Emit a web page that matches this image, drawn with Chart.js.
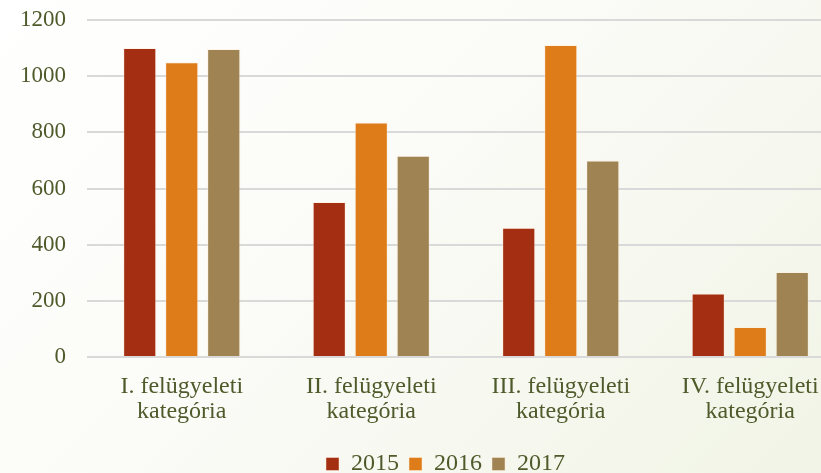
<!DOCTYPE html>
<html lang="hu">
<head>
  <meta charset="UTF-8" />
  <title>Felügyeleti kategóriák</title>
  <script src="https://cdn.jsdelivr.net/npm/chart.js"></script>
  <style>
    * { margin: 0; padding: 0; box-sizing: border-box; }
    html, body {
      width: 821px;
      height: 473px;
      overflow: hidden;
      background: linear-gradient(135deg, #ffffff 0%, #fbfbf7 45%, #f1f4e6 100%);
    }
    .wrap {
      position: relative;
      width: 845px;
      height: 486px;
    }
  </style>
</head>
<body>
  <div class="wrap">
    <canvas id="chart"></canvas>
  </div>

  <script>
    const categories = [
      ['I. felügyeleti', 'kategória'],
      ['II. felügyeleti', 'kategória'],
      ['III. felügyeleti', 'kategória'],
      ['IV. felügyeleti', 'kategória']
    ];
    const years = ['2015', '2016', '2017'];
    const values2015 = [1100, 552, 460, 226];
    const values2016 = [1050, 835, 1111, 107];
    const values2017 = [1097, 717, 700, 303];
    const colors = ['#a32e11', '#dd7c19', '#9f8352'];

    const textColor = '#4f5a2b';
    const serif = "'Liberation Serif', 'Times New Roman', serif";

    const series = [values2015, values2016, values2017];

    // legend in the original sits right of the canvas centre
    const legendShift = {
      id: 'legendShift',
      afterLayout(chart) {
        if (chart.legend) chart.legend.left += 46;
      }
    };

    const ctx = document.getElementById('chart').getContext('2d');
    new Chart(ctx, {
      type: 'bar',
      data: {
        labels: categories,
        datasets: years.map((y, i) => ({
          label: y,
          data: series[i],
          backgroundColor: colors[i],
          borderColor: 'rgba(255, 235, 215, 0.5)',
          borderWidth: 1,
          categoryPercentage: 0.665,
          barPercentage: 0.79
        }))
      },
      options: {
        responsive: true,
        maintainAspectRatio: false,
        animation: false,
        layout: { padding: 0 },
        plugins: {
          tooltip: { enabled: false },
          legend: {
            position: 'bottom',
            labels: {
              color: textColor,
              font: { family: serif, size: 24 },
              boxWidth: 13,
              boxHeight: 13,
              padding: 10
            }
          }
        },
        scales: {
          y: {
            min: 0,
            max: 1200,
            ticks: {
              stepSize: 200,
              color: textColor,
              font: { family: serif, size: 23 },
              padding: 21,
              callback: v => String(v)
            },
            grid: { color: '#d9d9d9', lineWidth: 2, drawTicks: false },
            border: { display: false },
            afterFit: s => {
              s.width = 87;
              s.paddingTop = 20;
              s.paddingBottom = 0;
            }
          },
          x: {
            ticks: {
              color: textColor,
              font: { family: serif, size: 24, lineHeight: 1.04 },
              padding: 9,
              maxRotation: 0
            },
            grid: { display: false },
            border: { display: false },
            afterFit: s => {
              s.height = 85;
              s.paddingLeft = 0;
              s.paddingRight = 0;
            }
          }
        }
      },
      plugins: [legendShift]
    });
  </script>
</body>
</html>
